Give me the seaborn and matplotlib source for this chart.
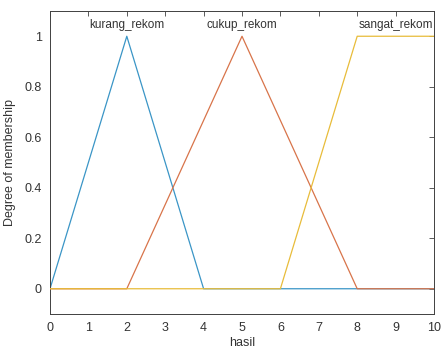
import matplotlib
matplotlib.use("Agg")
import matplotlib.pyplot as plt
import seaborn as sns
import pandas as pd

# Membership function breakpoints for output variable "hasil"
kurang_x = [0, 2, 4, 10]
kurang_y = [0, 1, 0, 0]
cukup_x = [0, 2, 5, 8, 10]
cukup_y = [0, 0, 1, 0, 0]
sangat_x = [0, 6, 8, 10]
sangat_y = [0, 0, 1, 1]

mf_names = ["kurang_rekom", "cukup_rekom", "sangat_rekom"]
label_x = [2, 5, 9]
colors = ["#3A95C6", "#D8744A", "#E8BC3A"]

sns.set_style("white")
plt.rcParams["font.family"] = ["Liberation Sans", "DejaVu Sans"]

fig = plt.figure(figsize=(4.41, 3.52), dpi=100)
ax = fig.add_axes([50 / 441, 1 - 314 / 352, 384 / 441, 303 / 352])

frames = []
for name, xs, ys in zip(mf_names, [kurang_x, cukup_x, sangat_x],
                        [kurang_y, cukup_y, sangat_y]):
    frames.append(pd.DataFrame({"hasil": xs, "mu": ys, "mf": name}))
df = pd.concat(frames, ignore_index=True)

txt = "#333333"
for i, (name, c) in enumerate(zip(mf_names, colors)):
    sub = df[df["mf"] == name]
    sns.lineplot(data=sub, x="hasil", y="mu", color=c, lw=0.9, ax=ax,
                 estimator=None, sort=False, zorder=2 + i)
    ax.text(label_x[i], 1.045, name, ha="center", va="center",
            fontsize=8.5, color=txt)

ax.set_xlim(0, 10)
ax.set_ylim(-0.1, 1.1)
ax.set_xticks(range(0, 11))
ax.set_yticks([0, 0.2, 0.4, 0.6, 0.8, 1])
ax.set_yticklabels(["0", "0.2", "0.4", "0.6", "0.8", "1"])
ax.set_xlabel("hasil", fontsize=9, color=txt, labelpad=2)
ax.set_ylabel("Degree of membership", fontsize=9, color=txt, labelpad=6)
ax.tick_params(direction="in", length=3.5, width=0.6, colors="#404040",
               labelcolor=txt, labelsize=9, top=True, right=True,
               labeltop=False, labelright=False, pad=6)
for s in ax.spines.values():
    s.set_color("#404040")
    s.set_linewidth(0.7)

fig.savefig("out.png", dpi=100)
